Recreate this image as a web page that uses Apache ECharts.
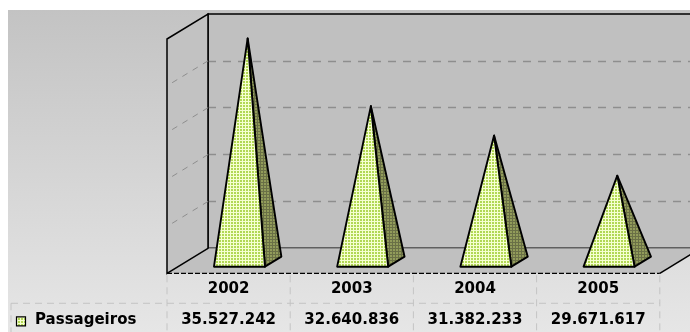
<!DOCTYPE html>
<html>
<head>
<meta charset="utf-8">
<script src="https://cdn.jsdelivr.net/npm/echarts@6/dist/echarts.min.js"></script>
<style>
  html, body { margin: 0; padding: 0; background: #fff; }
  #chart { width: 690px; height: 332px; }
</style>
</head>
<body>
<div id="chart"></div>
<script>
// Passenger totals per year
const years = ['2002', '2003', '2004', '2005'];
const passageiros = [35527242, 32640836, 31382233, 29671617];
const seriesName = 'Passageiros';

// Value axis range (gridlines every 2 million)
const axisMin = 26000000;
const axisMax = 36000000;
const axisStep = 2000000;

// 3D box layout: back wall = grid rect, depth vector points from back to front
const WALL = { left: 208, top: 14, width: 492.8, height: 234.3 };
const DEPTH = [-41, 25];
const T_FRONT = 0.735, T_BACK = 0.335, T_MID = 0.535;
const BAR_FRAC = 0.414;
const FONT = 'bold 15px "DejaVu Sans", sans-serif';

function makePattern(bg, dot, size, dotSize) {
  const c = document.createElement('canvas');
  c.width = c.height = size;
  const g = c.getContext('2d');
  g.fillStyle = bg; g.fillRect(0, 0, size, size);
  g.fillStyle = dot; g.fillRect(0, 0, dotSize, dotSize);
  return { image: c, repeat: 'repeat' };
}
const frontFill = makePattern('#f6ffd0', '#b2d854', 3, 2);
const sideFill = makePattern('#6a7046', '#929c5a', 3, 2);

function fmt(n) { return String(n).replace(/\B(?=(\d{3})+(?!\d))/g, '.'); }

const chart = echarts.init(document.getElementById('chart'), null, { renderer: 'canvas' });

function renderPyramid(params, api) {
  const i = api.value(0);
  const v = api.value(1);
  const top = api.coord([i, v]);
  const base = api.coord([i, axisMin]);
  const band = api.size([1, 0])[0];
  const hw = band * BAR_FRAC / 2;
  const at = (x, y, t) => [x + DEPTH[0] * t, y + DEPTH[1] * t];
  const FL = at(base[0] - hw, base[1], T_FRONT);
  const FR = at(base[0] + hw, base[1], T_FRONT);
  const BR = at(base[0] + hw, base[1], T_BACK);
  const A = at(top[0], top[1], T_MID);
  const floorFront = base[1] + DEPTH[1];
  const colX = base[0] + DEPTH[0];
  return {
    type: 'group',
    children: [
      { type: 'polygon', shape: { points: [FR, BR, A] },
        style: { fill: sideFill, stroke: '#000', lineWidth: 1.9, lineJoin: 'round' } },
      { type: 'polygon', shape: { points: [FL, FR, A] },
        style: { fill: frontFill, stroke: '#000', lineWidth: 1.9, lineJoin: 'round' } },
      { type: 'text', x: colX, y: floorFront + 16,
        style: { text: years[params.dataIndex], font: FONT, fill: '#000', align: 'center', verticalAlign: 'middle' } },
      { type: 'text', x: colX, y: floorFront + 47,
        style: { text: fmt(v), font: FONT, fill: '#000', align: 'center', verticalAlign: 'middle' } }
    ]
  };
}

chart.setOption({
  animation: false,
  backgroundColor: {
    type: 'linear', x: 0, y: 0, x2: 0, y2: 1,
    colorStops: [{ offset: 0, color: '#c2c2c2' }, { offset: 1, color: '#e6e6e6' }]
  },
  grid: {
    left: WALL.left, top: WALL.top, width: WALL.width, height: WALL.height,
    outerBoundsMode: 'none', containLabel: false,
    show: true, backgroundColor: '#c0c0c0', borderColor: '#000', borderWidth: 1.5
  },
  xAxis: {
    type: 'category', data: years,
    axisLine: { show: false }, axisTick: { show: false }, axisLabel: { show: false }
  },
  yAxis: {
    type: 'value', min: axisMin, max: axisMax, interval: axisStep,
    axisLine: { show: false }, axisTick: { show: false }, axisLabel: { show: false },
    splitLine: { show: true, showMinLine: false, showMaxLine: false,
      lineStyle: { type: [8, 7], color: '#8e8e8e', width: 1.3 } }
  },
  series: [{
    type: 'custom',
    name: seriesName,
    clip: false,
    renderItem: renderPyramid,
    data: passageiros.map((v, i) => [i, v]),
    z: 5
  }]
});

// Side wall, floor and data-table frame around the plot
const bx = WALL.left, by = WALL.top, bb = WALL.top + WALL.height, br = WALL.left + WALL.width;
const fx = bx + DEPTH[0], fb = bb + DEPTH[1], fr = br + DEPTH[0];
const colW = WALL.width / years.length;
const graphics = [];

graphics.push({ type: 'rect', shape: { x: 0, y: 0, width: 690, height: 10 }, style: { fill: '#fff' }, z: 1 });
graphics.push({ type: 'rect', shape: { x: 0, y: 0, width: 8, height: 332 }, style: { fill: '#fff' }, z: 1 });

graphics.push({ type: 'polygon', shape: { points: [[bx, bb], [br, bb], [fr, fb], [fx, fb]] },
  style: { fill: '#c0c0c0' }, z: 1 });
graphics.push({ type: 'polygon', shape: { points: [[fx, by + DEPTH[1]], [bx, by], [bx, bb], [fx, fb]] },
  style: { fill: '#c2c2c2', stroke: '#000', lineWidth: 1.5 }, z: 2 });

for (let v = axisMin + axisStep; v < axisMax; v += axisStep) {
  const y = chart.convertToPixel({ yAxisIndex: 0 }, v);
  graphics.push({ type: 'line', shape: { x1: bx, y1: y, x2: fx, y2: y + DEPTH[1] },
    style: { stroke: '#8e8e8e', lineWidth: 1, lineDash: [6, 6] }, z: 2 });
}

graphics.push({ type: 'line', shape: { x1: fx, y1: fb, x2: fr, y2: fb },
  style: { stroke: '#000', lineWidth: 1.3, lineDash: [5, 2] }, z: 3 });
graphics.push({ type: 'line', shape: { x1: fr, y1: fb, x2: br, y2: bb },
  style: { stroke: '#000', lineWidth: 1.5 }, z: 3 });

const tableLine = { stroke: '#c4c4c4', lineWidth: 1, lineDash: [7, 5] };
for (let k = 0; k <= years.length; k++) {
  const x = fx + k * colW;
  graphics.push({ type: 'line', shape: { x1: x, y1: fb + 2, x2: x, y2: 332 }, style: tableLine, z: 2 });
}
graphics.push({ type: 'line', shape: { x1: 11, y1: fb + 30, x2: 11, y2: 332 }, style: tableLine, z: 2 });
graphics.push({ type: 'line', shape: { x1: 11, y1: fb + 30, x2: fr, y2: fb + 30 }, style: tableLine, z: 2 });

graphics.push({ type: 'rect', shape: { x: 16.5, y: fb + 43.5, width: 9, height: 9 },
  style: { fill: frontFill, stroke: '#000', lineWidth: 1.2 }, z: 3 });
graphics.push({ type: 'text', x: 35, y: fb + 47,
  style: { text: seriesName, font: FONT, fill: '#000', align: 'left', verticalAlign: 'middle' }, z: 3 });

chart.setOption({ graphic: graphics });
</script>
</body>
</html>
